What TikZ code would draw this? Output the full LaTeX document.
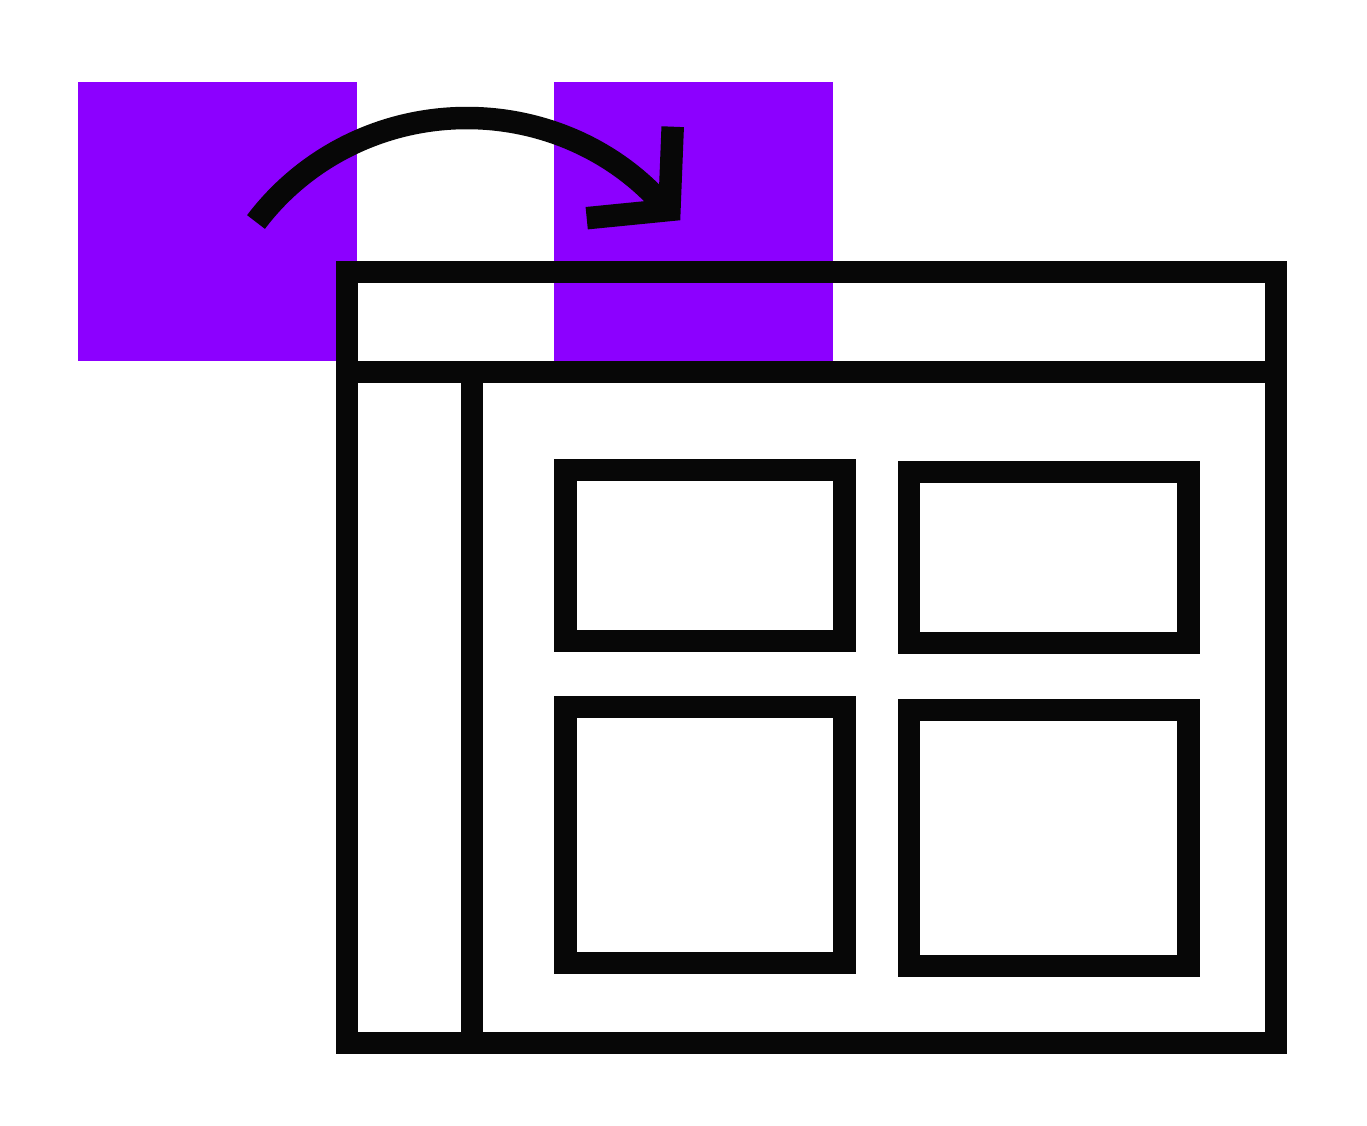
\documentclass[tikz,border=0pt]{standalone}
\definecolor{violet}{HTML}{8C00FF}
\definecolor{ink}{HTML}{070707}
\tikzset{
    thickline/.style={draw=ink,line width=.45cm},
    swatch/.style={fill=violet}
}
\begin{document}
\begin{tikzpicture}[x=.02cm,y=-.02cm]
\useasboundingbox (0,0) rectangle (1367,1126);
\begin{scope}
    \foreach \x in {78,554}
    {
        \fill[swatch] (\x,82) rectangle (\x+279,361);
    }
\end{scope}

\begin{scope}
    \draw[thickline] (347,272) rectangle (1276,1043);
    \draw[thickline] (336,372)--(1287,372);
    \draw[thickline] (472,372)--(472,1043);
    \foreach \x/\y/\w/\h in {565.5/470/279/171, 909/472/279.5/171, 565.5/707/279/256, 909/710/279.5/256}
    {
        \draw[thickline] (\x,\y) rectangle (\x+\w,\y+\h);
    }
\end{scope}

\begin{scope}
    \draw[thickline] (256,222) .. controls (306,156) and (384,118) .. (467,118) .. controls (545,118) and (620,152) .. (669,212);
    \draw[thickline,miter limit=10] (672.7,126.7)--(669.4,210)--(586.7,218.2);
\end{scope}
\end{tikzpicture}
\end{document}
